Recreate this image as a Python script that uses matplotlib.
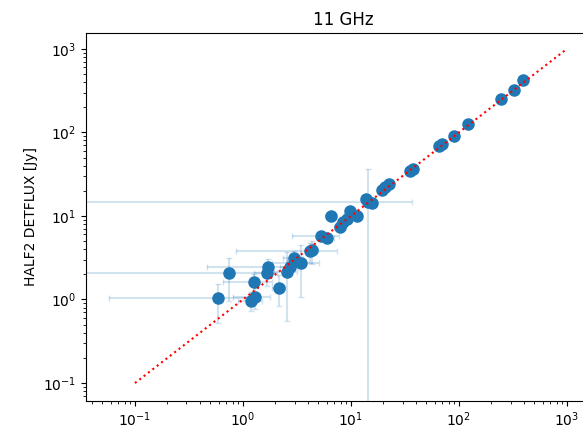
import matplotlib
matplotlib.use("Agg")
import matplotlib.pyplot as plt

# flux pairs (Jy)
x_flux = [392, 323, 245, 121, 90, 69.6, 65.3, 37.5, 35.2, 22.5, 20.6, 19.4,
          14.4, 15.6, 13.8, 9.8, 11.4, 6.5, 9.2, 8.4, 7.9, 5.3, 6.0, 4.17,
          4.35, 3.44, 3.03, 2.96, 2.72, 2.55, 1.70, 1.67, 2.15, 1.26, 1.19,
          1.29, 0.74, 0.587]
y_flux = [420, 318, 248, 125, 89.5, 71.8, 68, 36, 34.1, 23.8, 21.9, 20.2,
          14.5, 14.1, 15.8, 11.3, 9.86, 9.86, 9.1, 8.4, 7.3, 5.8, 5.4, 3.76,
          3.86, 2.77, 2.85, 3.18, 2.48, 2.15, 2.48, 2.05, 1.39, 1.64, 0.97,
          1.06, 2.05, 1.03]
x_err = [3, 3, 3, 2, 2, 4, 3, 2, 2, 2, 2, 2,
         22, 1.5, 1.5, 1.0, 1.2, 0.8, 1.0, 1.0, 1.0, 2.46, 1.0, 3.3,
         0.6, 1.6, 0.5, 0.6, 0.5, 0.6, 1.24, 0.4, 0.3, 0.6, 0.3,
         0.48, 0.9, 0.53]
y_err = [3, 3, 3, 2, 2, 2, 2, 1.5, 1.5, 1.5, 1.5, 1.5,
         22, 1.0, 1.0, 0.8, 0.8, 0.6, 0.8, 0.8, 0.6, 0.5, 0.5, 1.0,
         1.2, 1.7, 0.5, 0.6, 0.5, 1.6, 0.6, 0.6, 0.55, 0.4, 0.25,
         0.3, 1.1, 0.5]

line_x = [0.1, 1000]

fig = plt.figure(figsize=(5.83, 4.32), dpi=100)
# axes run past the right edge, like the cropped reference
ax = fig.add_axes([0.1475, 0.0718, 0.8816, 0.852])

ax.errorbar(x_flux, y_flux, xerr=x_err, yerr=y_err, fmt='none',
            ecolor='C0', alpha=0.2, capsize=2)
ax.plot(x_flux, y_flux, 'o', color='C0', markersize=8, linestyle='none')
ax.plot(line_x, line_x, 'r:')

ax.set_xscale('log')
ax.set_yscale('log')
ax.set_xlim(0.0352, 2020)
ax.set_ylim(0.061, 1550)
ax.set_title('11 GHz')
ax.set_ylabel('HALF2 DETFLUX [Jy]')

fig.savefig('out.png', dpi=100)
